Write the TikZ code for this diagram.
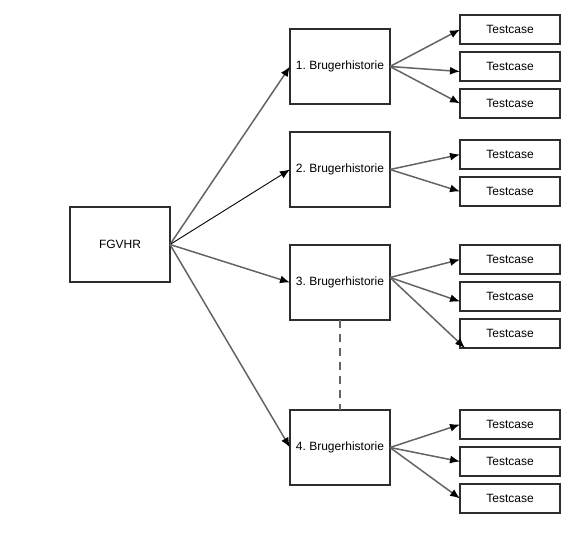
\documentclass[tikz,border=0pt]{standalone}
\usepackage{fontspec}
\setmainfont{Liberation Sans}
\usepackage{tikz}
\usetikzlibrary{arrows,arrows.meta,positioning}
\frenchspacing
\definecolor{boxgray}{RGB}{45,45,45}
\definecolor{edgegray}{RGB}{100,100,100}
\tikzstyle{story} = [rectangle, draw=boxgray, line width=1.8pt, outer sep=0pt, inner sep=0pt, text=black, text centered, font=\fontsize{12}{14}\selectfont, minimum width=100pt, minimum height=75pt]
\tikzstyle{test} = [rectangle, draw=boxgray, line width=1.8pt, outer sep=0pt, inner sep=0pt, text=black, text centered, font=\fontsize{12}{14}\selectfont, minimum width=100pt, minimum height=29pt]
\tikzstyle{tedge}  = [draw, edgegray, line width=1.5pt, -{Latex[black,length=10pt,width=8pt]}]

\begin{document}
\begin{tikzpicture}[x=1pt,y=-1pt]
\useasboundingbox (0,0) rectangle (580,546);

% boxes =============================
\node[story] (root) at (120,244.5) {FGVHR};
\node[story] (s1) at (340,66.5) {1. Brugerhistorie};
\node[story] (s2) at (340,169.5) {2. Brugerhistorie};
\node[story] (s3) at (340,282.5) {3. Brugerhistorie};
\node[story] (s4) at (340,447.5) {4. Brugerhistorie};

% testcases
\node[test] (t11) at (510,29.5) {Testcase};
\node[test, below=8pt of t11] (t12) {Testcase};
\node[test, below=8pt of t12] (t13) {Testcase};
\node[test] (t21) at (510,154.5) {Testcase};
\node[test, below=8pt of t21] (t22) {Testcase};
\node[test] (t31) at (510,259.5) {Testcase};
\node[test, below=8pt of t31] (t32) {Testcase};
\node[test, below=8pt of t32] (t33) {Testcase};
\node[test] (t41) at (510,424.5) {Testcase};
\node[test, below=8pt of t41] (t42) {Testcase};
\node[test, below=8pt of t42] (t43) {Testcase};

% edges
\path[tedge] (root.east) -- (s1.west);
\path[tedge, black, line width=0.9pt] (root.east) -- (s2.west);
\path[tedge] (root.east) -- (s3.west);
\path[tedge] (root.east) -- (s4.west);
\path[tedge] (s1.east) -- (t11.west);
\path[tedge] (s1.east) -- ([yshift=-5pt]t12.west);
\path[tedge] (s1.east) -- (t13.west);
\foreach \t in {t21,t22} \path[tedge] (s2.east) -- (\t.west);
\path[tedge] ([yshift=5pt]s3.east) -- (t31.west);
\path[tedge] ([yshift=5pt]s3.east) -- ([yshift=-5pt]t32.west);
\path[tedge] ([yshift=5pt]s3.east) -- ([xshift=5pt]t33.south west);
\foreach \t in {t41,t42,t43} \path[tedge] (s4.east) -- (\t.west);
\draw[edgegray, line width=1.4pt, dash pattern=on 8pt off 6pt] (s3.south) -- (s4.north);

\end{tikzpicture}
\end{document}
